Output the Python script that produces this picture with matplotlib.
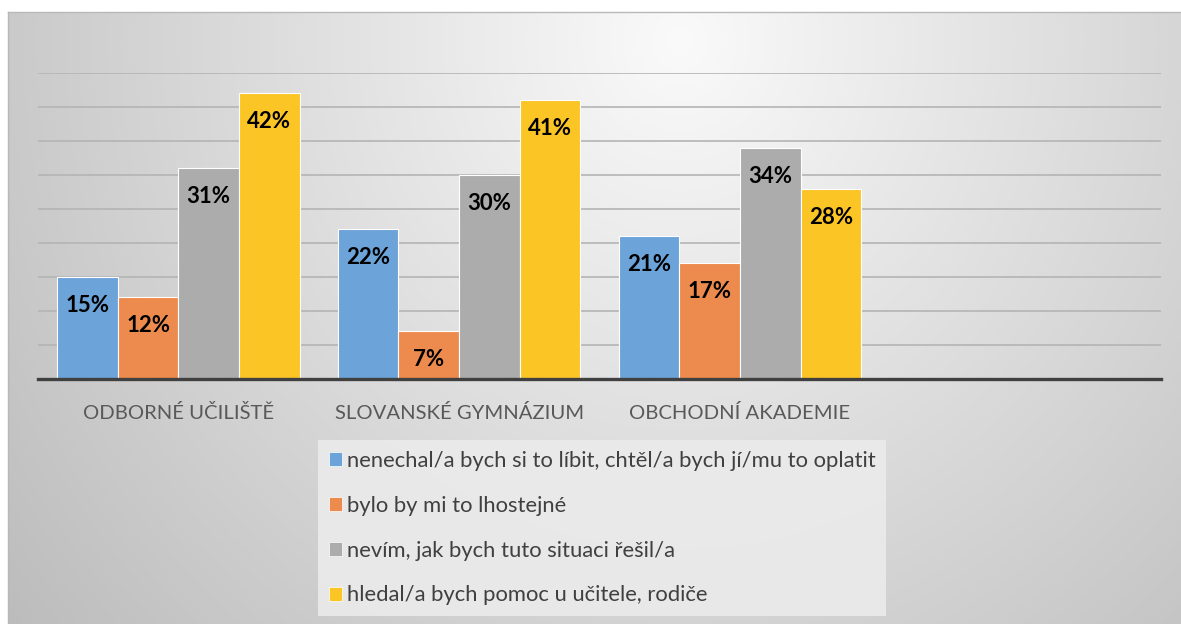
import numpy as np
import matplotlib.pyplot as plt
from matplotlib.patches import Patch

categories = ["ODBORNÉ UČILIŠTĚ", "SLOVANSKÉ GYMNÁZIUM", "OBCHODNÍ AKADEMIE", ""]
series = [
    "nenechal/a bych si to líbit, chtěl/a bych jí/mu to oplatit",
    "bylo by mi to lhostejné",
    "nevím, jak bych tuto situaci řešil/a",
    "hledal/a bych pomoc u učitele, rodiče",
]
values = [
    [15, 22, 21],
    [12, 7, 17],
    [31, 30, 34],
    [42, 41, 28],
]
colors = ["#6ca3d8", "#ec8b4d", "#acacac", "#fcc526"]

plt.rcParams["font.family"] = ["Lato", "DejaVu Sans"]

W, H = 1181, 624
fig = plt.figure(figsize=(W / 100, H / 100), dpi=100)

# gradient background of the chart area
bg = fig.add_axes([8 / W, 0, 1 - 8 / W, 1 - 12 / H])
xx, yy = np.meshgrid(np.linspace(8, W, 400), np.linspace(12, H, 250))
r = np.sqrt(((xx - 680) / 700) ** 2 + ((yy - 40) / 750) ** 2)
shade = np.clip(250 - 50 * r, 180, 255) / 255
bg.imshow(np.dstack([shade, shade, shade]), aspect="auto", extent=[0, 1, 0, 1])
bg.set_xlim(0, 1)
bg.set_ylim(0, 1)
bg.set_xticks([])
bg.set_yticks([])
for side in ["right", "bottom"]:
    bg.spines[side].set_visible(False)
for side in ["top", "left"]:
    bg.spines[side].set_color("#b8b8b8")
    bg.spines[side].set_linewidth(1)

ax = fig.add_axes([38 / W, 1 - 379 / H, (1161 - 38) / W, (379 - 73) / H])
ax.patch.set_alpha(0)

w = 0.216
x = np.arange(3)
for i, (vals, col) in enumerate(zip(values, colors)):
    pos = x + (i - 1.5) * w
    bars = ax.bar(pos, vals, width=w, color=col, edgecolor="white",
                  linewidth=0.8, zorder=3, label=series[i])
    for p, v in zip(pos, vals):
        ax.annotate(f"{v}%", (p, v), xytext=(0, -20.5), textcoords="offset points",
                    ha="center", va="center", fontsize=16, fontweight="bold",
                    color="black", zorder=4)

ax.set_xlim(-0.5, 3.5)
ax.set_ylim(0, 45)
ax.set_yticks(np.arange(5, 50, 5))
ax.yaxis.grid(True, color="#b4b4b4", linewidth=1.2, zorder=0)
ax.tick_params(axis="y", left=False, labelleft=False)
ax.set_xticks(np.arange(4))
ax.set_xticklabels(categories, fontsize=14.6, color="#595959")
ax.tick_params(axis="x", length=0, pad=18)
for side in ["top", "right", "left"]:
    ax.spines[side].set_visible(False)
ax.spines["bottom"].set_color("#404040")
ax.spines["bottom"].set_linewidth(2.4)
ax.spines["bottom"].set_zorder(5)

handles = [Patch(facecolor=c, edgecolor="white", linewidth=0.5) for c in colors]
leg = fig.legend(handles, series, loc="upper left",
                 bbox_to_anchor=(318 / W, 1 - 440 / H), fontsize=15.8,
                 frameon=True, fancybox=False, facecolor="#ebebeb",
                 edgecolor="none", framealpha=0.9, labelspacing=1.13,
                 handlelength=0.6, handleheight=0.6, handletextpad=0.2,
                 borderpad=0.5, borderaxespad=0)
for t in leg.get_texts():
    t.set_color("#404040")

fig.savefig("out.png", dpi=100)
